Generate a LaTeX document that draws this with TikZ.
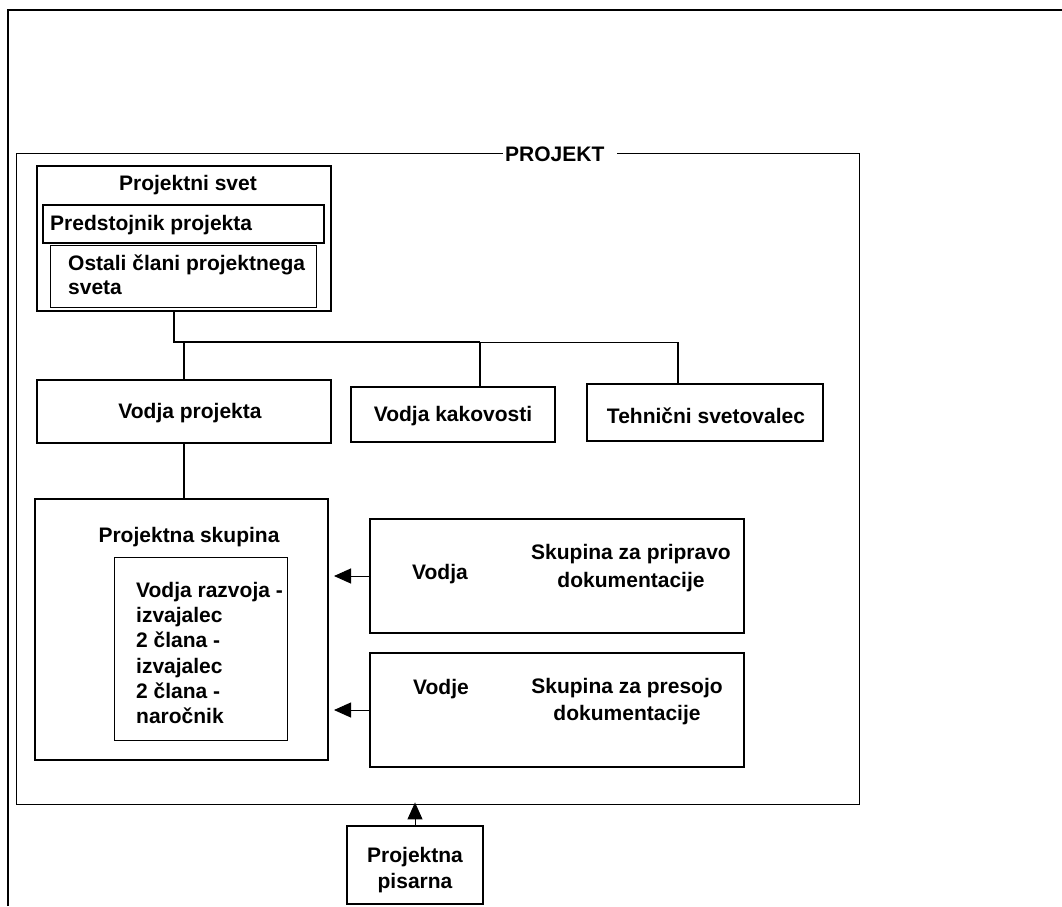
\documentclass[tikz,border=0pt]{standalone}
\usepackage{fontspec}
\setmainfont{Liberation Sans}
\usetikzlibrary{arrows.meta}
\begin{document}
\begin{tikzpicture}[x=1pt,y=-1pt,
  thickbox/.style={draw,line width=2pt,inner sep=0pt},
  midbox/.style={draw,line width=1.5pt,inner sep=0pt},
  thinbox/.style={draw,line width=0.9pt,inner sep=0pt},
  lbl/.style={font=\fontsize{21}{25.2}\selectfont\bfseries,inner sep=0pt},
  conn/.style={line width=2pt},
  thinconn/.style={line width=1pt},
  arr/.style={line width=1pt,-{Triangle[length=17pt,width=15pt]}}]
\useasboundingbox (0,0) rectangle (1062,906);
% outer frame
\coordinate (fa) at (8,906);
\coordinate (fb) at (8,10);
\coordinate (fc) at (1062,10);
\draw[line width=2.5pt] (fa) -- (fb) -- (fc);
% PROJEKT frame
\node[draw,line width=0.8pt,inner sep=0pt,minimum width=843pt,minimum height=651pt] (proj) at (437.5,478.5) {};
\node[lbl,fill=white,anchor=west] (projtitle) at (503,154) {\kern2pt PROJEKT\kern13pt};
% Projektni svet
\node[thickbox,minimum width=294pt,minimum height=145pt] (svet) at (184,238) {};
\node[lbl] (svettitle) at (188,185) {Projektni svet};
\node[midbox,minimum width=281pt,minimum height=38pt] (pred) at (183.5,224) {};
\node[lbl,anchor=west] (predtxt) at (50,225) {Predstojnik projekta};
\node[thinbox,minimum width=266pt,minimum height=62pt] (ost) at (183,276) {};
\node[lbl,anchor=west,align=left,font=\fontsize{21}{24}\selectfont\bfseries] (osttxt) at (68,275) {Ostali člani projektnega\\sveta};
% second row
\node[thickbox,minimum width=294pt,minimum height=63pt] (vp) at (184,411.5) {};
\node[lbl] (vptxt) at (190,413) {Vodja projekta};
\node[midbox,minimum width=204pt,minimum height=55pt] (vk) at (453,414.5) {};
\node[lbl] (vktxt) at (453,416) {Vodja kakovosti};
\node[midbox,minimum width=236pt,minimum height=57pt] (ts) at (705,412.5) {};
\node[lbl] (tstxt) at (706,416) {Tehnični svetovalec};
% connectors from Projektni svet
\coordinate (j0) at (174,342);
\coordinate (j1) at (480,342);
\coordinate (j2) at (678,342);
\draw[conn] (svet.south -| j0) -- (j0) -- (j1);
\draw[thinconn] (j1) -- (j2);
\draw[conn] (vp.north |- j0) -- (vp.north);
\draw[conn] (j1) -- (j1 |- vk.north);
\draw[line width=1.3pt] (j2) -- (j2 |- ts.north);
% Projektna skupina
\node[thickbox,minimum width=293pt,minimum height=261pt] (ps) at (181.5,629.5) {};
\node[lbl] (pstxt) at (189,537) {Projektna skupina};
\node[thinbox,minimum width=173pt,minimum height=183pt] (psin) at (200.5,648.5) {};
\node[lbl,anchor=west,align=left] (psintxt) at (136,653) {Vodja razvoja -\\izvajalec\\2 člana -\\izvajalec\\2 člana -\\naročnik};
\draw[conn] (vp.south) -- (vp.south |- ps.north);
% Skupina za pripravo
\node[thickbox,minimum width=374pt,minimum height=114pt] (sp) at (557,576) {};
\node[lbl] (sptxt1) at (440,574) {Vodja};
\node[lbl,align=center,font=\fontsize{21}{28}\selectfont\bfseries] (sptxt2) at (631,568) {Skupina za pripravo\\dokumentacije};
% Skupina za presojo
\node[thickbox,minimum width=374pt,minimum height=114pt] (spr) at (557,710) {};
\node[lbl] (sprtxt1) at (441,689) {Vodje};
\node[lbl,align=center,font=\fontsize{21}{27}\selectfont\bfseries] (sprtxt2) at (627,702) {Skupina za presojo\\dokumentacije};
\draw[arr] (sp.west) -- ([xshift=5pt]sp.west -| ps.east);
\draw[arr] (spr.west) -- ([xshift=5pt]spr.west -| ps.east);
% Projektna pisarna
\node[thickbox,minimum width=136pt,minimum height=78pt] (pis) at (415,865) {};
\node[lbl,align=center,font=\fontsize{21}{26}\selectfont\bfseries] (pistxt) at (415,870) {Projektna\\pisarna};
\draw[arr] (pis.north) -- ([yshift=2pt]pis.north |- proj.south);
\end{tikzpicture}
\end{document}
